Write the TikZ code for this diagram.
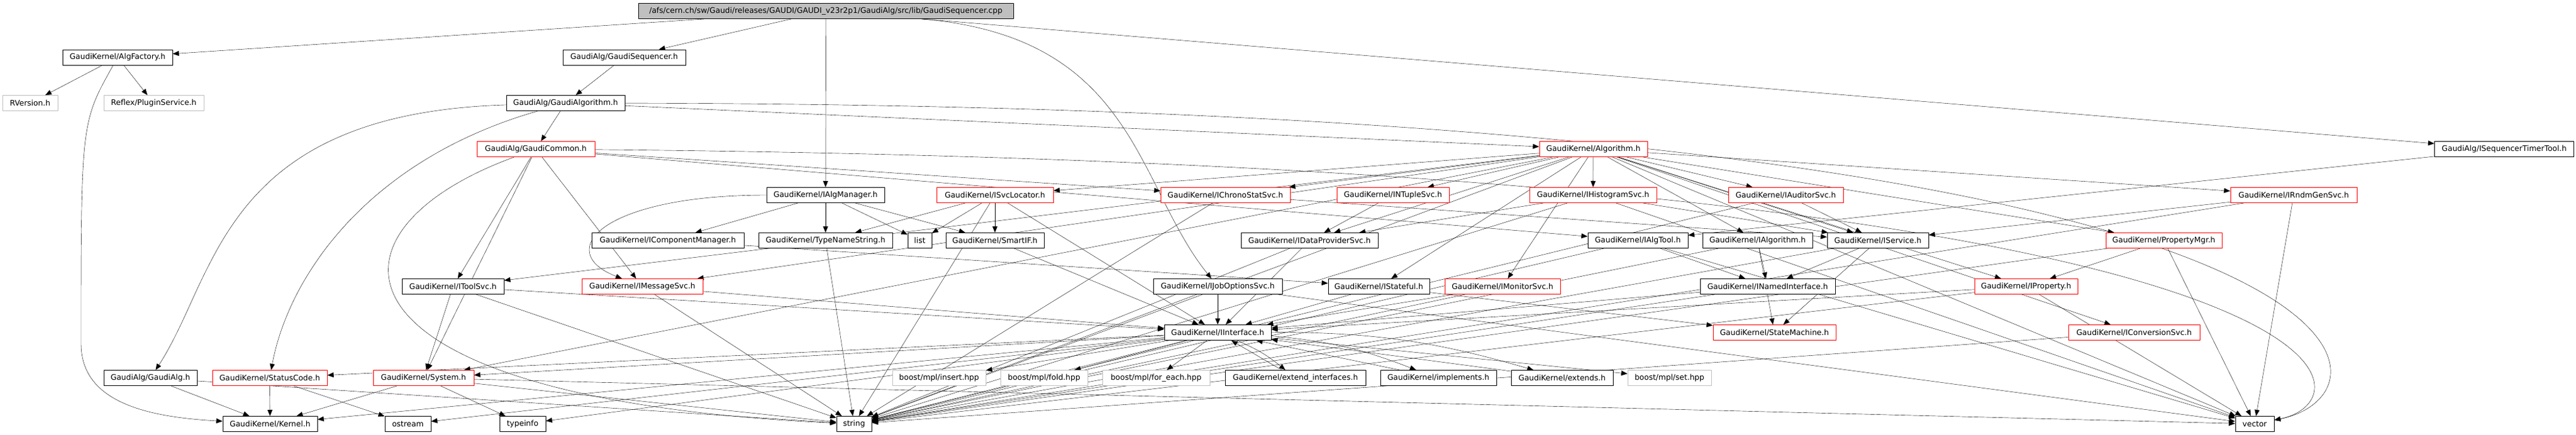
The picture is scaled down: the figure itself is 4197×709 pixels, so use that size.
\documentclass[tikz,border=0pt]{standalone}
\usepackage{fontspec}
\setmainfont{DejaVu Sans}
\usepackage{xcolor}
\usepackage{tikz}
\usetikzlibrary{arrows.meta,positioning,backgrounds}

\definecolor{edgeblue}{HTML}{191970}
\definecolor{rootgrey}{HTML}{BFBFBF}
\definecolor{extgrey}{HTML}{BFBFBF}

\begin{document}
\begin{tikzpicture}[x=1pt, y=-1pt, >={Triangle[length=10pt,width=8pt]},
		incfile/.style={draw=black, fill=white, rectangle, line width=1pt, minimum height=25pt, inner sep=3pt, font=\fontsize{12.5}{15}\selectfont},
		incred/.style={incfile, draw=red},
		incext/.style={incfile, draw=extgrey},
		srcfile/.style={incfile, fill=rootgrey}]
		% Fix the size of the picture
		\useasboundingbox (0,0) rectangle (4197,709);
		
		% Draw the source file at the top
		\node (root) [srcfile, minimum width=611pt] at (1345.5,18) {/afs/cern.ch/sw/Gaudi/releases/GAUDI/GAUDI\_v23r2p1/GaudiAlg/src/lib/GaudiSequencer.cpp};
		
		% Draw the first row of headers
		\node (algfac) [incfile, minimum width=179pt] at (191.5,93.5) {GaudiKernel/AlgFactory.h};
		\node (gseq) [incfile, minimum width=200pt, right of=algfac, node distance=825.5pt] {GaudiAlg/GaudiSequencer.h};
		
		% Draw the second row
		\node (rversion) [incext, minimum width=90pt] at (49,168) {RVersion.h};
		\node (plugin) [incext, minimum width=163pt, right of=rversion, node distance=201.5pt] {Reflex/PluginService.h};
		\node (galgo) [incfile, minimum width=193pt, right of=plugin, node distance=671pt] {GaudiAlg/GaudiAlgorithm.h};
		
		% Draw the third row
		\node (gcommon) [incred, minimum width=192pt] at (873,243) {GaudiAlg/GaudiCommon.h};
		\node (alg) [incred, minimum width=176pt, right of=gcommon, node distance=1723pt] {GaudiKernel/Algorithm.h};
		\node (isqtt) [incfile, minimum width=227pt, right of=alg, node distance=1484pt] {GaudiAlg/ISequencerTimerTool.h};
		
		% Draw the fourth row
		\node (iam) [incfile, minimum width=192pt] at (1345,318) {GaudiKernel/IAlgManager.h};
		\node (isl) [incred, minimum width=190pt, right of=iam, node distance=276pt] {GaudiKernel/ISvcLocator.h};
		\node (ichrono) [incred, minimum width=211pt, right of=isl, node distance=375.5pt] {GaudiKernel/IChronoStatSvc.h};
		\node (intuple) [incred, minimum width=183pt, right of=ichrono, node distance=273pt] {GaudiKernel/INTupleSvc.h};
		\node (ihist) [incred, minimum width=207pt, right of=intuple, node distance=326pt] {GaudiKernel/IHistogramSvc.h};
		\node (iaud) [incred, minimum width=187pt, right of=ihist, node distance=314pt] {GaudiKernel/IAuditorSvc.h};
		\node (irndm) [incred, minimum width=206pt, right of=iaud, node distance=827.5pt] {GaudiKernel/IRndmGenSvc.h};
		
		% Draw the fifth row
		\node (icompmgr) [incfile, minimum width=248pt] at (1088,392) {GaudiKernel/IComponentManager.h};
		\node (typens) [incfile, minimum width=218pt, right of=icompmgr, node distance=257pt] {GaudiKernel/TypeNameString.h};
		\node (list) [incfile, minimum width=39pt, right of=typens, node distance=153.5pt] {list};
		\node (smartif) [incfile, minimum width=160pt, right of=list, node distance=122.5pt] {GaudiKernel/SmartIF.h};
		\node (idp) [incfile, minimum width=223pt, right of=smartif, node distance=512.5pt] {GaudiKernel/IDataProviderSvc.h};
		\node (ialgtool) [incfile, minimum width=163pt, right of=idp, node distance=535pt] {GaudiKernel/IAlgTool.h};
		\node (ialgorithm) [incfile, minimum width=179pt, right of=ialgtool, node distance=195pt] {GaudiKernel/IAlgorithm.h};
		\node (iservice) [incfile, minimum width=165pt, right of=ialgorithm, node distance=196pt] {GaudiKernel/IService.h};
		\node (propmgr) [incred, minimum width=189pt, right of=iservice, node distance=466pt] {GaudiKernel/PropertyMgr.h};
		
		% Draw the sixth row
		\node (itoolsvc) [incfile, minimum width=166pt] at (738,467) {GaudiKernel/IToolSvc.h};
		\node (imsgsvc) [incred, minimum width=197pt, right of=itoolsvc, node distance=308.5pt] {GaudiKernel/IMessageSvc.h};
		\node (ijobopt) [incfile, minimum width=210pt, right of=imsgsvc, node distance=937.5pt] {GaudiKernel/IJobOptionsSvc.h};
		\node (istateful) [incfile, minimum width=165pt, right of=ijobopt, node distance=262.5pt] {GaudiKernel/IStateful.h};
		\node (imonitor) [incred, minimum width=188pt, right of=istateful, node distance=201.5pt] {GaudiKernel/IMonitorSvc.h};
		\node (inamed) [incfile, minimum width=220pt, right of=imonitor, node distance=432pt] {GaudiKernel/INamedInterface.h};
		\node (iprop) [incred, minimum width=168pt, right of=inamed, node distance=421pt] {GaudiKernel/IProperty.h};
		
		% Draw the seventh row
		\node (iinterface) [incfile, minimum width=174pt] at (1984,542) {GaudiKernel/IInterface.h};
		\node (statemach) [incred, minimum width=200pt, right of=iinterface, node distance=907pt] {GaudiKernel/StateMachine.h};
		\node (iconv) [incred, minimum width=214pt, right of=statemach, node distance=586pt] {GaudiKernel/IConversionSvc.h};
		
		% Draw the eighth row
		\node (galg) [incfile, minimum width=152pt] at (245,616) {GaudiAlg/GaudiAlg.h};
		\node (statcode) [incred, minimum width=187pt, right of=galg, node distance=194.5pt] {GaudiKernel/StatusCode.h};
		\node (system) [incred, minimum width=164pt, right of=statcode, node distance=250.5pt] {GaudiKernel/System.h};
		\node (mplinsert) [incext, minimum width=152pt, right of=system, node distance=840pt] {boost/mpl/insert.hpp};
		\node (mplfold) [incext, minimum width=142pt, right of=mplinsert, node distance=171pt] {boost/mpl/fold.hpp};
		\node (mplforeach) [incext, minimum width=175pt, right of=mplfold, node distance=182.5pt] {boost/mpl/for\_each.hpp};
		\node (extif) [incfile, minimum width=229pt, right of=mplforeach, node distance=227pt] {GaudiKernel/extend\_interfaces.h};
		\node (implements) [incfile, minimum width=189pt, right of=extif, node distance=233pt] {GaudiKernel/implements.h};
		\node (extends) [incfile, minimum width=166pt, right of=implements, node distance=201.5pt] {GaudiKernel/extends.h};
		\node (mplset) [incext, minimum width=136pt, right of=extends, node distance=175pt] {boost/mpl/set.hpp};
		
		% Draw the bottom row
		\node (kernel) [incfile, minimum width=154pt] at (440,691) {GaudiKernel/Kernel.h};
		\node (ostream) [incfile, minimum width=75pt, right of=kernel, node distance=224.5pt] {ostream};
		\node (typeinfo) [incfile, minimum width=75pt, right of=ostream, node distance=187pt] {typeinfo};
		\node (string) [incfile, minimum width=57pt, right of=typeinfo, node distance=540pt] {string};
		\node (vector) [incfile, minimum width=63pt, right of=string, node distance=2282pt] {vector};
		
		\begin{scope}[on background layer, color=edgeblue, line width=0.9pt]
		% Connect the source file with arrows
		\draw[->] (root) -- (algfac);
		\draw[->] (root) -- (gseq);
		\draw[->] (root) -- (iam);
		\draw[->] (root) .. controls (1850,60) and (1850,300) .. (ijobopt);
		\draw[->] (root) -- (isqtt);
		
		% Connect the upper headers
		\draw[->] (algfac) -- (rversion);
		\draw[->] (algfac) -- (plugin);
		\draw[->] (algfac) .. controls (132,200) .. (132,560) .. controls (132,660) and (250,680) .. (kernel);
		\draw[->] (gseq) -- (galgo);
		\draw[->] (galgo) -- (gcommon);
		\draw[->] (galgo) -- (alg);
		\draw[->] (galgo) .. controls (360,185) and (354,450) .. (galg);
		\draw[->] (galgo) .. controls (600,260) and (470,450) .. (statcode);
		\draw[->] (galgo) .. controls (3930,172) and (3930,640) .. (vector);
		\draw[->] (gcommon) -- (itoolsvc);
		\draw[->] (gcommon) -- (system);
		\draw[->] (gcommon) .. controls (500,380) and (520,650) .. (string);
		\draw[->] (gcommon) -- (imsgsvc);
		\draw[->] (gcommon) -- (ichrono);
		\draw[->] (gcommon) -- (ialgtool);
		\draw[->] (gcommon) .. controls (3877,270) and (3877,650) .. (vector);
		\draw[->] (isqtt) -- (ialgtool);
		
		% Connect Algorithm.h with arrows
		\draw[->] (alg) -- (isl);
		\draw[->] (alg) -- (ichrono);
		\draw[->] (alg) -- (intuple);
		\draw[->] (alg) -- (ihist);
		\draw[->] (alg) -- (iaud);
		\draw[->] (alg) -- (irndm);
		\draw[->] (alg) -- (idp);
		\draw[->] (alg) -- (ialgorithm);
		\draw[->] (alg) -- (iservice);
		\draw[->] (alg) -- (propmgr);
		\draw[->] (alg) -- (iprop);
		\draw[->] (alg) -- (istateful);
		\draw[->] (alg) -- (imonitor);
		\draw[->] (alg) -- (iconv);
		\draw[->] (alg) -- (imsgsvc);
		\draw[->] (alg) -- (itoolsvc);
		\draw[->] (alg) -- (system);
		\draw[->] (alg) -- (string);
		\draw[->] (alg) -- (vector);
		
		% Connect the fourth row
		\draw[->] (iam) -- (icompmgr);
		\draw[->] (iam) -- (typens);
		\draw[->] (iam) -- (list);
		\draw[->] (iam) -- (smartif);
		\draw[->] (iam) .. controls (980,318) and (900,410) .. (imsgsvc);
		\draw[->] (isl) -- (typens);
		\draw[->] (isl) -- (list);
		\draw[->] (isl) -- (smartif);
		\draw[->] (isl) -- (iinterface);
		\draw[->] (isl) -- (string);
		\draw[->] (ichrono) -- (iservice);
		\draw[->] (ichrono) -- (string);
		\draw[->] (intuple) -- (idp);
		\draw[->] (ihist) -- (idp);
		\draw[->] (ihist) -- (iservice);
		\draw[->] (ihist) -- (string);
		\draw[->] (ihist) -- (vector);
		\draw[->] (iaud) -- (iservice);
		\draw[->] (iaud) -- (string);
		\draw[->] (irndm) -- (iservice);
		\draw[->] (irndm) -- (string);
		\draw[->] (irndm) -- (vector);
		
		% Connect the fifth row
		\draw[->] (icompmgr) -- (istateful);
		\draw[->] (typens) -- (string);
		\draw[->] (smartif) -- (iinterface);
		\draw[->] (idp) -- (iinterface);
		\draw[->] (idp) -- (string);
		\draw[->] (ialgtool) -- (inamed);
		\draw[->] (ialgtool) -- (string);
		\draw[->] (ialgtool) -- (vector);
		\draw[->] (ialgorithm) -- (inamed);
		\draw[->] (ialgorithm) -- (statemach);
		\draw[->] (ialgorithm) -- (string);
		\draw[->] (iservice) -- (inamed);
		\draw[->] (iservice) -- (statemach);
		\draw[->] (iservice) -- (string);
		\draw[->] (propmgr) -- (iprop);
		\draw[->] (propmgr) -- (string);
		\draw[->] (propmgr) -- (vector);
		
		% Connect the sixth row
		\draw[->] (itoolsvc) -- (system);
		\draw[->] (itoolsvc) -- (string);
		\draw[->] (itoolsvc) -- (iinterface);
		\draw[->] (imsgsvc) -- (iinterface);
		\draw[->] (imsgsvc) -- (string);
		\draw[->] (ijobopt) -- (iinterface);
		\draw[->] (ijobopt) -- (string);
		\draw[->] (ijobopt) -- (vector);
		\draw[->] (istateful) -- (iinterface);
		\draw[->] (istateful) -- (statemach);
		\draw[->] (imonitor) -- (iinterface);
		\draw[->] (imonitor) -- (string);
		\draw[->] (inamed) -- (iinterface);
		\draw[->] (inamed) -- (string);
		\draw[->] (iprop) -- (iinterface);
		\draw[->] (iprop) -- (string);
		\draw[->] (iprop) -- (vector);
		
		% Connect IInterface.h with arrows
		\draw[->] (iconv) -- (string);
		\draw[->] (iinterface) -- (kernel);
		\draw[->] (iinterface) -- (statcode);
		\draw[->] (iinterface) -- (system);
		\draw[->] (iinterface) -- (ostream);
		\draw[->] (iinterface) -- (typeinfo);
		\draw[->] (iinterface) -- (string);
		\draw[->] (iinterface) -- (mplinsert);
		\draw[->] (iinterface) -- (mplfold);
		\draw[->] (iinterface) -- (mplforeach);
		\draw[->] (iinterface) -- (mplset);
		\draw[->] (iinterface) to[bend left=8] (extif);
		\draw[->] (iinterface) to[bend left=8] (implements);
		\draw[->] (iinterface) to[bend left=8] (extends);
		
		% Connect the lower headers
		\draw[->] (extif) -- (iinterface);
		\draw[->] (implements) -- (iinterface);
		\draw[->] (extends) -- (iinterface);
		\draw[->] (galg) -- (kernel);
		\draw[->] (galg) -- (string);
		\draw[->] (statcode) -- (kernel);
		\draw[->] (statcode) -- (ostream);
		\draw[->] (system) -- (kernel);
		\draw[->] (system) -- (typeinfo);
		\draw[->] (system) -- (string);
		\draw[->] (system) -- (vector);
		\end{scope}
	\end{tikzpicture}
\end{document}
